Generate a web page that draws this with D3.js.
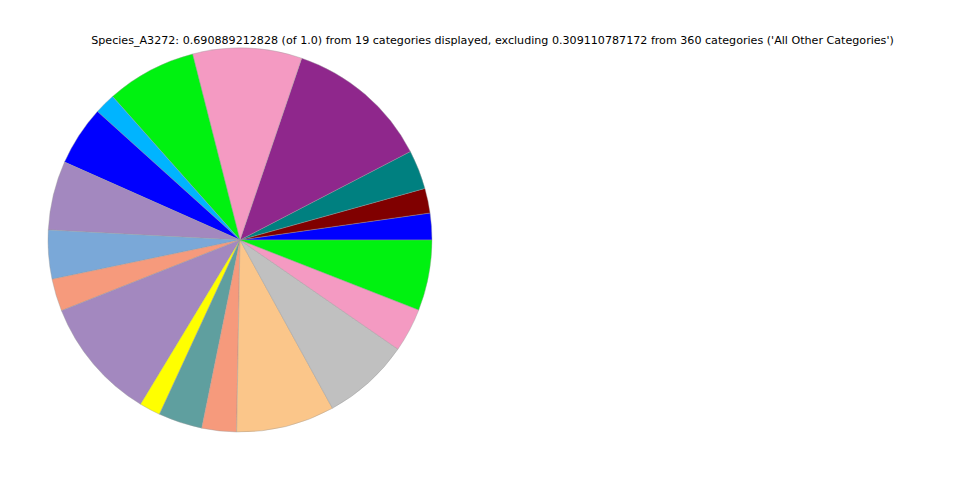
<!DOCTYPE html>
<html>
<head>
<meta charset="utf-8">
<script src="https://cdn.jsdelivr.net/npm/d3@7"></script>
<style>
  html, body { margin: 0; padding: 0; background: #fff; }
  svg { display: block; }
</style>
</head>
<body>
<svg id="chart" width="960" height="480"></svg>
<script>
const categories = [
  "Cat_01","Cat_02","Cat_03","Cat_04","Cat_05","Cat_06","Cat_07","Cat_08","Cat_09","Cat_10",
  "Cat_11","Cat_12","Cat_13","Cat_14","Cat_15","Cat_16","Cat_17","Cat_18","Cat_19"
];
const values = [
  0.01554, 0.01439, 0.02274, 0.08406, 0.06343, 0.05239, 0.01221, 0.03474, 0.04019, 0.02840,
  0.01881, 0.07139, 0.01228, 0.02552, 0.02015, 0.05719, 0.05095, 0.02543, 0.04107
];
const colors = [
  "#0000ff", "#800000", "#008080", "#8f278c", "#f49ac2", "#00f210", "#00b4ff", "#0000ff",
  "#a388bf", "#7aa8d8", "#f69a7c", "#a388bf", "#ffff00", "#5f9f9f", "#f69a7c", "#fbc68a",
  "#c0c0c0", "#f49ac2", "#00f210"
];
const titleText = "Species_A3272: 0.690889212828 (of 1.0) from 19 categories displayed, excluding 0.309110787172 from 360 categories ('All Other Categories')";

const svg = d3.select("#chart");
const cx = 240, cy = 240, r = 192;

const data = categories.map((c, i) => ({ name: c, value: values[i], color: colors[i] }));

// Counter-clockwise from 3 o'clock (matplotlib style)
const pie = d3.pie()
  .sort(null)
  .value(d => d.value)
  .startAngle(Math.PI / 2)
  .endAngle(Math.PI / 2 - 2 * Math.PI);

const arc = d3.arc().innerRadius(0).outerRadius(r);

svg.append("g")
  .attr("transform", `translate(${cx},${cy})`)
  .selectAll("path")
  .data(pie(data))
  .join("path")
  .attr("d", arc)
  .attr("fill", d => d.data.color)
  .attr("stroke", "#999")
  .attr("stroke-width", 0.4);

svg.append("text")
  .attr("x", 492.5)
  .attr("y", 44)
  .attr("text-anchor", "middle")
  .attr("font-family", "DejaVu Sans, sans-serif")
  .attr("font-size", 11.12)
  .attr("fill", "#000")
  .text(titleText);
</script>
</body>
</html>
